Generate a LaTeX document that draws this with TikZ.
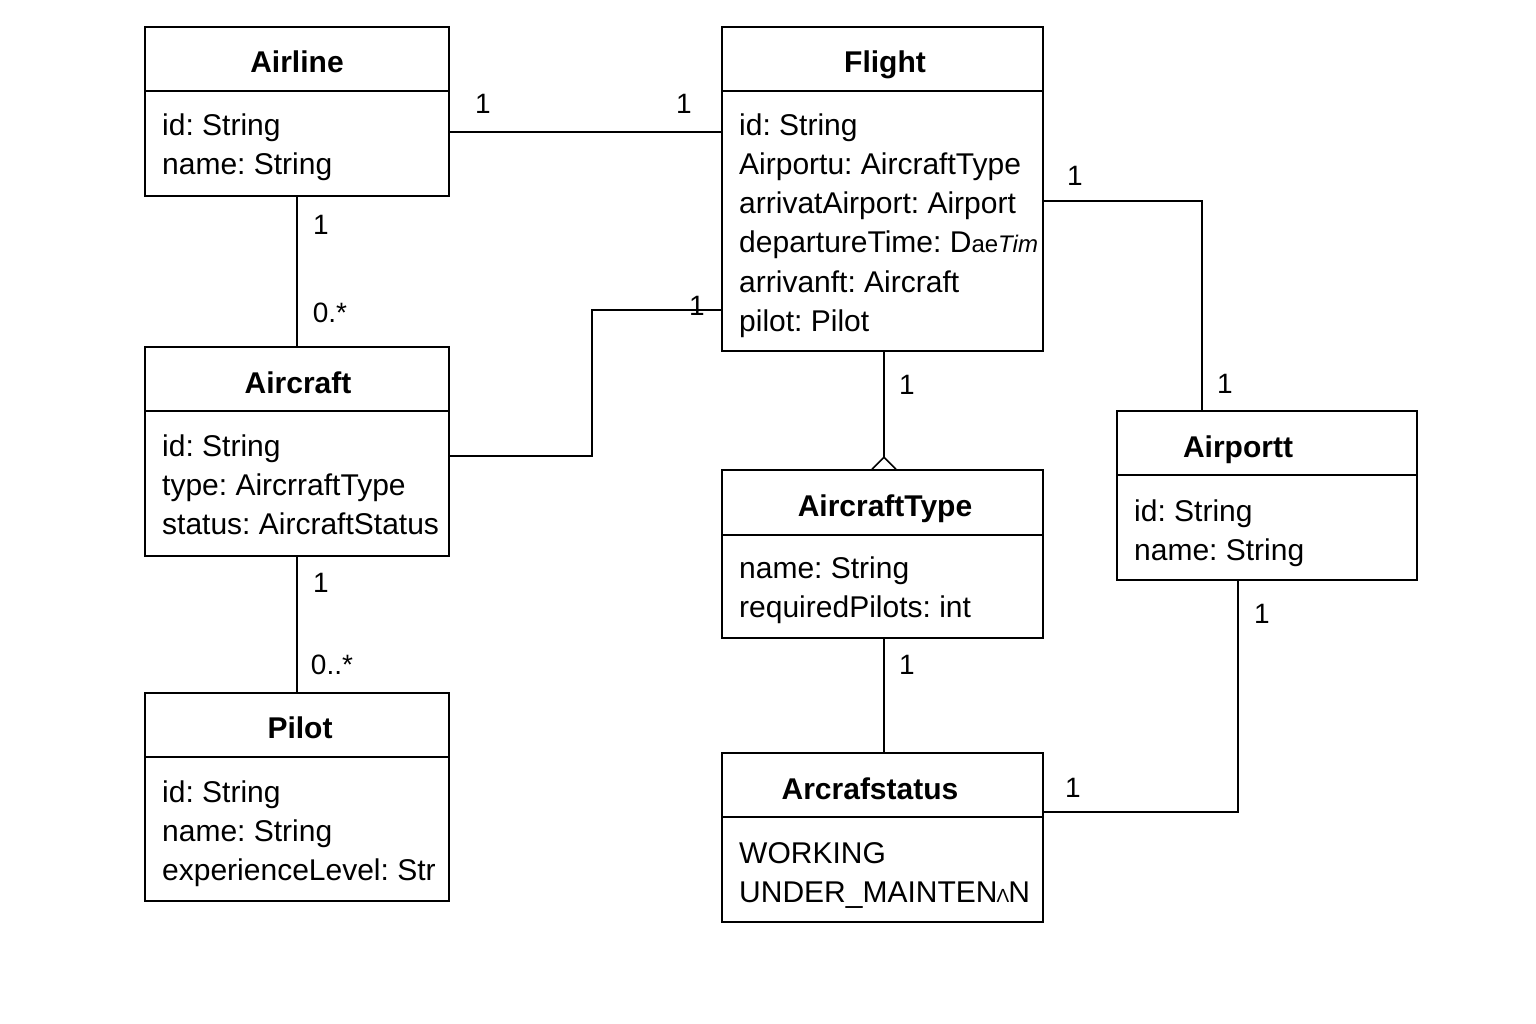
\documentclass[tikz,border=0pt]{standalone}
\usepackage{fontspec}
\setmainfont{Liberation Sans}
\usetikzlibrary{calc}
\frenchspacing
\begin{document}
\begin{tikzpicture}[x=1pt,y=-1pt,
  cls/.style={draw, line width=1.6pt, inner sep=0pt, minimum width=#1},
  sep/.style={line width=1.6pt},
  conn/.style={line width=1.6pt},
  attr/.style={anchor=base west, inner sep=0pt, font=\fontsize{30}{36}\selectfont},
  ttl/.style={anchor=base, inner sep=0pt, font=\fontsize{30}{36}\selectfont\bfseries},
  mult/.style={anchor=base, inner sep=0pt, font=\fontsize{28}{34}\selectfont}]
\useasboundingbox[fill=white] (0,0) rectangle (1536,1024);

% ---- class boxes
\node[cls=304pt, minimum height=169pt] (airline) at (297,111.5) {};
\node[cls=321pt, minimum height=324pt] (flight) at (882.5,189) {};
\node[cls=304pt, minimum height=209pt] (aircraft) at (297,451.5) {};
\node[cls=304pt, minimum height=208pt] (pilot) at (297,797) {};
\node[cls=321pt, minimum height=168pt] (atype) at (882.5,554) {};
\node[cls=300pt, minimum height=169pt] (airport) at (1267,495.5) {};
\node[cls=321pt, minimum height=169pt] (status) at (882.5,837.5) {};

% ---- separators
\draw[sep] (airline.west |- 0,91) -- (airline.east |- 0,91);
\draw[sep] (flight.west |- 0,91) -- (flight.east |- 0,91);
\draw[sep] (aircraft.west |- 0,411) -- (aircraft.east |- 0,411);
\draw[sep] (pilot.west |- 0,757) -- (pilot.east |- 0,757);
\draw[sep] (atype.west |- 0,535) -- (atype.east |- 0,535);
\draw[sep] (airport.west |- 0,475) -- (airport.east |- 0,475);
\draw[sep] (status.west |- 0,817) -- (status.east |- 0,817);

% ---- titles
\node[ttl] (tAirline) at (297,73) {Airline};
\node[ttl] (tFlight) at (885,73) {Flight};
\node[ttl] (tAircraft) at (298,393) {Aircraft};
\node[ttl] (tPilot) at (300,738) {Pilot};
\node[ttl] (tAtype) at (885,516) {AircraftType};
\node[ttl] (tAirport) at (1238,457) {Airportt};
\node[ttl] (tStatus) at (870,799) {Arcrafstatus};

% ---- attributes
\node[attr] (a1) at (162,136) {id: String};
\node[attr] (a2) at (162,175) {name: String};

\node[attr] (f1) at (739,136) {id: String};
\node[attr] (f2) at (739,175) {Airportu: AircraftType};
\node[attr] (f3) at (739,214) {arrivatAirport: Airport};
\node[attr] (f4) at (739,253) {departureTime: D{\fontsize{24}{24}\selectfont ae\itshape Tim}};
\node[attr] (f5) at (739,292) {arrivanft: Aircraft};
\node[attr] (f6) at (739,331) {pilot: Pilot};

\node[attr] (c1) at (162,456) {id: String};
\node[attr] (c2) at (162,495) {type: AircrraftType};
\node[attr] (c3) at (162,534) {status: AircraftStatus};

\node[attr] (p1) at (162,802) {id: String};
\node[attr] (p2) at (162,841) {name: String};
\node[attr] (p3) at (162,880) {experienceLevel: Str};

\node[attr] (t1) at (739,578) {name: String};
\node[attr] (t2) at (739,617) {requiredPilots: int};

\node[attr] (r1) at (1134,521) {id: String};
\node[attr] (r2) at (1134,560) {name: String};

\node[attr] (s1) at (739,863) {WORKING};
\node[attr] (s2) at (739,902) {UNDER\_MAINTEN\kern-1pt{\fontsize{19}{19}\selectfont Λ}\kern-1pt N};

% ---- helper coordinates
\coordinate (bAF) at (592,310);
\coordinate (bFP) at (1202,201);
\coordinate (bPS) at (1238,812);

% ---- connectors
\draw[conn] (airline.east |- 0,132) -- (flight.west |- 0,132);
\draw[conn] (airline.south) -- (aircraft.north);
\draw[conn] (aircraft.south) -- (pilot.north);
\draw[conn] (aircraft.east |- 0,456) -| (bAF) -- (flight.west |- bAF);
\draw[conn] (flight.east |- bFP) -| (bFP |- airport.north);
\draw[conn] (flight.south -| 884,0) -- ($(atype.north -| 884,0)+(0,-12)$);
\draw[conn, line join=miter] ($(atype.north -| 884,0)+(-12,0)$) -- ($(atype.north -| 884,0)+(0,-12)$) -- ($(atype.north -| 884,0)+(12,0)$);
\draw[conn] (atype.south -| 884,0) -- (status.north -| 884,0);
\draw[conn] (bPS |- airport.south) |- (status.east |- bPS);

% ---- multiplicities
\node[mult] (m1) at (483,114) {1};
\node[mult] (m2) at (684,114) {1};
\node[mult] (m3) at (321,235) {1};
\node[mult] (m4) at (330,322) {0.*};
\node[mult] (m5) at (697,315) {1};
\node[mult] (m6) at (321,592) {1};
\node[mult] (m7) at (332,674) {0..*};
\node[mult] (m8) at (907,394) {1};
\node[mult] (m9) at (1075,186) {1};
\node[mult] (m10) at (1225,393) {1};
\node[mult] (m11) at (907,674) {1};
\node[mult] (m12) at (1262,623) {1};
\node[mult] (m13) at (1073,797) {1};
\end{tikzpicture}
\end{document}
